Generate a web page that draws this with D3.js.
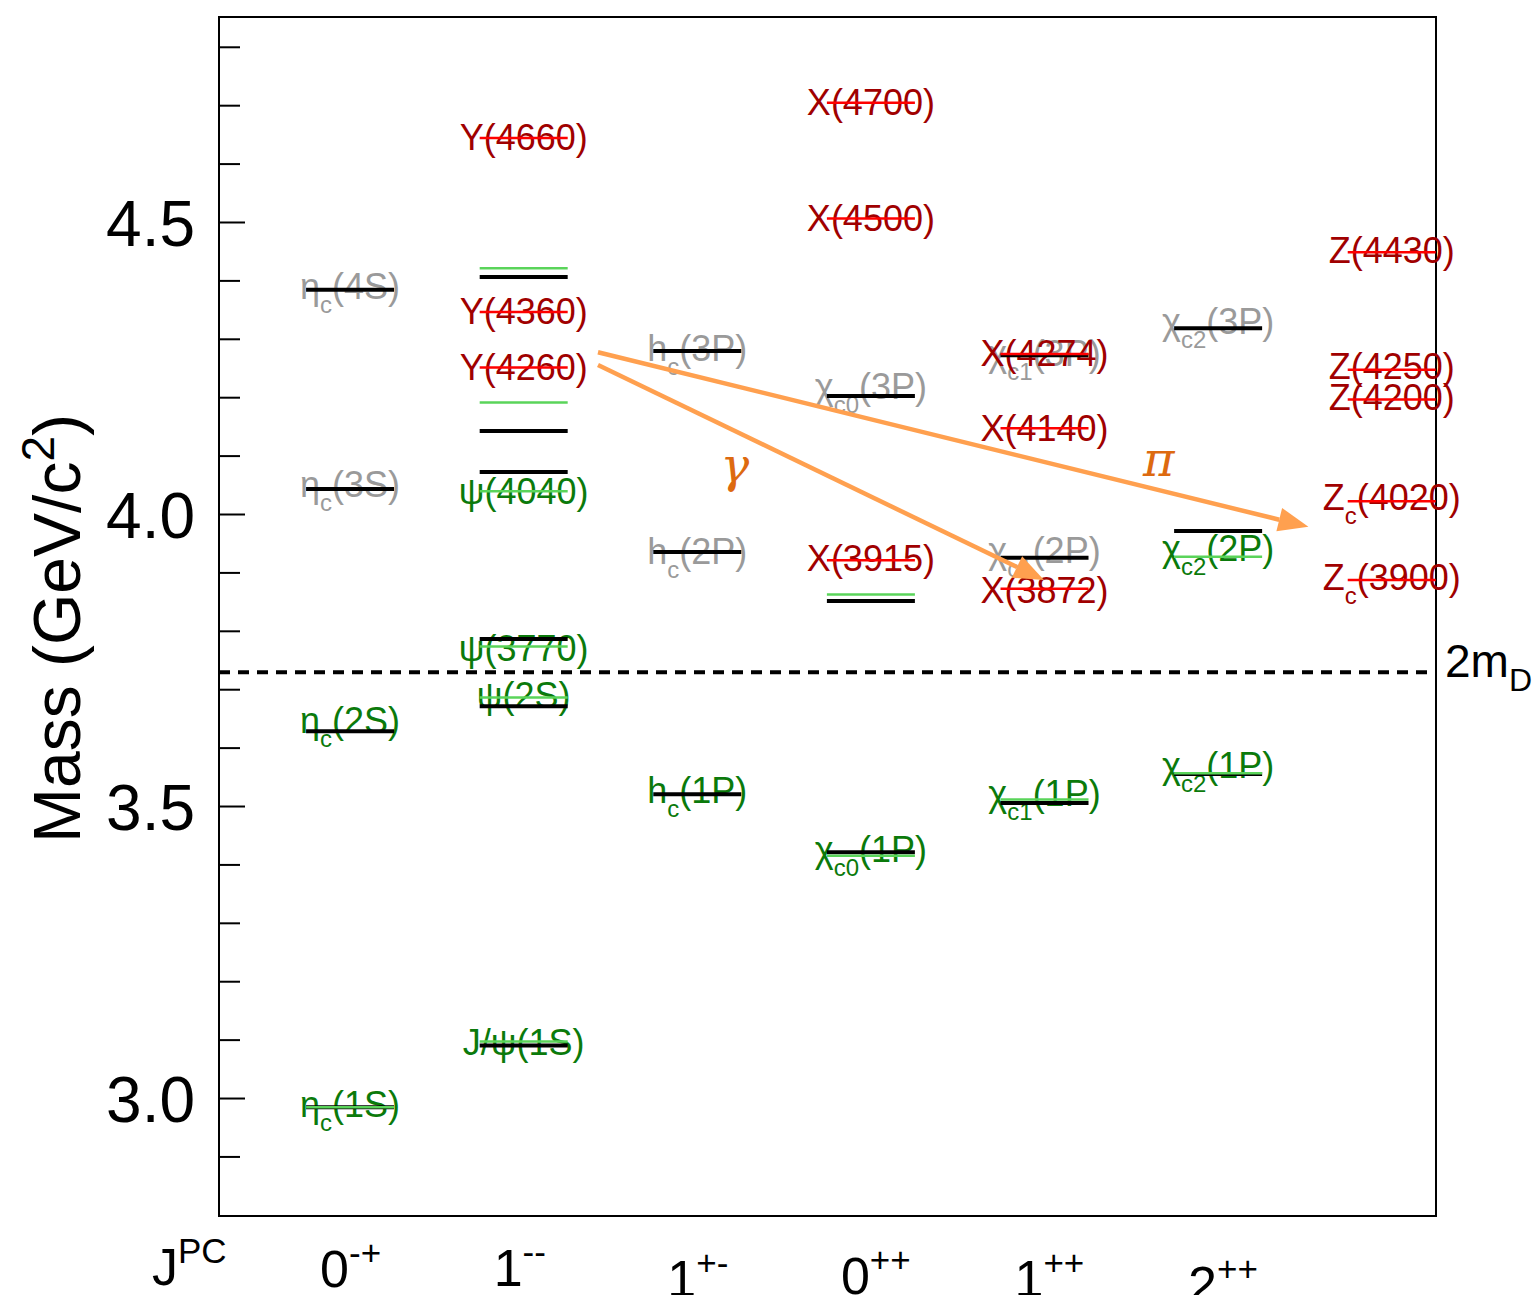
<!DOCTYPE html>
<html>
<head>
<meta charset="utf-8">
<script src="https://cdn.jsdelivr.net/npm/d3@7"></script>
<style>
  html, body { margin: 0; padding: 0; background: #fff; }
  svg { display: block; font-family: "Liberation Sans", Arial, Helvetica, sans-serif; }
</style>
</head>
<body>
<svg id="chart" width="1540" height="1295"></svg>
<script>
// ---------- data ----------
const jpcMain = ["0", "1", "1", "0", "1", "2"];
const jpcSup  = ["-+", "--", "+-", "++", "++", "++"];

const yTicksMajor = [3.0, 3.5, 4.0, 4.5];
const yTicksAll = [2.9, 3.0, 3.1, 3.2, 3.3, 3.4, 3.5, 3.6, 3.7, 3.8, 3.9, 4.0, 4.1, 4.2, 4.3, 4.4, 4.5, 4.6, 4.7, 4.8];

// potential-model predictions (black)  [column, mass]
const predCols   = [0, 0, 0, 0, 1, 1, 1, 1, 1, 1, 2, 2, 2, 3, 3, 3, 4, 4, 4, 5, 5, 5];
const predMasses = [2.984, 3.628, 4.043, 4.384, 3.090, 3.671, 3.786, 4.072, 4.142, 4.406, 3.520, 3.935, 4.279, 3.421, 3.851, 4.202, 3.505, 3.925, 4.272, 3.555, 3.971, 4.318];

// established charmonia (light green)
const expCols   = [0, 1, 1, 1, 1, 1, 1, 3, 3, 4, 5, 5];
const expMasses = [2.984, 3.097, 3.686, 3.773, 4.039, 4.191, 4.421, 3.415, 3.862, 3.511, 3.556, 3.927];

// exotic / XYZ states (red)
const exoCols   = [1, 1, 1, 3, 3, 3, 4, 4, 4, 6, 6, 6, 6, 6];
const exoMasses = [4.251, 4.346, 4.644, 3.921, 4.506, 4.704, 3.872, 4.147, 4.274, 3.887, 4.022, 4.196, 4.247, 4.448];

// labels: column, mass, main, subscript, rest, kind
const labCols   = [0, 0, 0, 0, 1, 1, 1, 1, 1, 1, 1, 2, 2, 2, 3, 3, 3, 3, 3, 4, 4, 4, 4, 4, 4, 5, 5, 5, 6, 6, 6, 6, 6];
const labMasses = [2.990, 3.647, 4.051, 4.390, 3.096, 3.690, 3.771, 4.039, 4.252, 4.348, 4.646, 3.527, 3.937, 4.284, 3.426, 4.219, 3.925, 4.507, 4.705, 3.522, 3.938, 4.276, 3.870, 4.147, 4.276, 3.570, 3.942, 4.330, 3.892, 4.029, 4.200, 4.253, 4.452];
const labMain   = ["η", "η", "η", "η", "J/ψ", "ψ", "ψ", "ψ", "Y", "Y", "Y", "h", "h", "h", "χ", "χ", "X", "X", "X", "χ", "χ", "χ", "X", "X", "X", "χ", "χ", "χ", "Z", "Z", "Z", "Z", "Z"];
const labSub    = ["c", "c", "c", "c", "", "", "", "", "", "", "", "c", "c", "c", "c0", "c0", "", "", "", "c1", "c1", "c1", "", "", "", "c2", "c2", "c2", "c", "c", "", "", ""];
const labRest   = ["(1S)", "(2S)", "(3S)", "(4S)", "(1S)", "(2S)", "(3770)", "(4040)", "(4260)", "(4360)", "(4660)", "(1P)", "(2P)", "(3P)", "(1P)", "(3P)", "(3915)", "(4500)", "(4700)", "(1P)", "(2P)", "(3P)", "(3872)", "(4140)", "(4274)", "(1P)", "(2P)", "(3P)", "(3900)", "(4020)", "(4200)", "(4250)", "(4430)"];
const labKind   = ["g", "g", "k", "k", "g", "g", "g", "g", "r", "r", "r", "g", "k", "k", "g", "k", "r", "r", "r", "g", "k", "k", "r", "r", "r", "g", "g", "k", "r", "r", "r", "r", "r"];

// transitions from Y(4260): [fromCol, fromMass, toCol, toMass]
const arrowFromCol  = [1.428, 1.428];
const arrowFromMass = [4.277, 4.255];
const arrowToCol    = [5.52, 3.997];
const arrowToMass   = [3.978, 3.887];
const arrowLabel    = ["π", "γ"];
const arrowLabCol   = [4.658, 2.216];
const arrowLabMass  = [4.089, 4.079];

const threshold = 3.729; // 2 m_D

// ---------- drawing ----------
const svg = d3.select("#chart");
const L = 219, R = 1436, T = 17, B = 1216;

const x = d3.scaleLinear().domain([-0.755, 6.255]).range([L, R]);
const y = d3.scaleLinear().domain([2.798, 4.851]).range([B, T]);

const colors = { g: "#0b7a0b", k: "#9a9a9a", r: "#a00000" };
const HW = 44;

// axis ticks (inside)
const axis = d3.axisLeft(y)
  .tickValues(yTicksAll)
  .tickSizeInner(-22)
  .tickSizeOuter(0)
  .tickPadding(24)
  .tickFormat(d => yTicksMajor.some(v => Math.abs(v - d) < 1e-6) ? d3.format(".1f")(d) : "");
const ag = svg.append("g").attr("transform", `translate(${L},0)`).call(axis);
ag.select(".domain").remove();
ag.selectAll(".tick line").attr("stroke", "#000").attr("stroke-width", 2)
  .attr("x2", d => yTicksMajor.some(v => Math.abs(v - d) < 1e-6) ? 26 : 21);
ag.selectAll(".tick text").attr("fill", "#000").style("font-size", "64px")
  .style("font-family", '"Liberation Sans", Arial, sans-serif').attr("dy", "0.36em");

// frame
svg.append("rect").attr("x", L).attr("y", T).attr("width", R - L).attr("height", B - T)
  .attr("fill", "none").attr("stroke", "#000").attr("stroke-width", 2);

// y axis title
const yt = svg.append("text")
  .attr("transform", `translate(80,${(T + B) / 2 + 12}) rotate(-90)`)
  .attr("text-anchor", "middle").attr("fill", "#000").style("font-size", "66px");
yt.append("tspan").text("Mass (GeV/c");
yt.append("tspan").attr("dy", -26).style("font-size", "46px").text("2");
yt.append("tspan").attr("dy", 26).text(")");

// JPC labels
const jpcY = [1287, 1286, 1297, 1294, 1297, 1303];
const jt = svg.append("text").attr("x", 152).attr("y", 1285).attr("fill", "#000").style("font-size", "52px");
jt.append("tspan").text("J");
jt.append("tspan").attr("dy", -22).style("font-size", "35px").text("PC");
jpcMain.forEach((m, i) => {
  const t = svg.append("text").attr("x", x(i) - 30).attr("y", jpcY[i]).attr("fill", "#000").style("font-size", "52px");
  t.append("tspan").text(m);
  t.append("tspan").attr("dy", -22).style("font-size", "35px").text(jpcSup[i]);
});

// labels (under the lines)
const FS = 36;
labMain.forEach((m, i) => {
  const t = svg.append("text")
    .attr("x", x(labCols[i])).attr("y", y(labMasses[i]) + FS * 0.36)
    .attr("text-anchor", "middle").attr("fill", colors[labKind[i]])
    .style("font-size", FS + "px");
  t.append("tspan").text(m);
  if (labSub[i]) {
    t.append("tspan").attr("dy", 14).style("font-size", "24px").text(labSub[i]);
    t.append("tspan").attr("dy", -14).text(labRest[i]);
  } else {
    t.append("tspan").text(labRest[i]);
  }
});

// 2mD threshold
svg.append("line").attr("x1", L).attr("x2", R).attr("y1", y(threshold)).attr("y2", y(threshold))
  .attr("stroke", "#000").attr("stroke-width", 4).attr("stroke-dasharray", "11,8");
const mt = svg.append("text").attr("x", 1445).attr("y", y(threshold) + 5).attr("fill", "#000").style("font-size", "46px");
mt.append("tspan").text("2m");
mt.append("tspan").attr("dy", 14).style("font-size", "32px").text("D");

// level lines
const drawLines = (cols, masses, stroke, width) => {
  svg.append("g").selectAll("line").data(masses).join("line")
    .attr("x1", (d, i) => x(cols[i]) - HW).attr("x2", (d, i) => x(cols[i]) + HW)
    .attr("y1", d => y(d)).attr("y2", d => y(d))
    .attr("stroke", stroke).attr("stroke-width", width);
};
drawLines(predCols, predMasses, "#000", 4);
drawLines(expCols, expMasses, "#5ad45a", 2.5);
drawLines(exoCols, exoMasses, "#ff0000", 2.5);

// transition arrows
const orange = "#ffa04f";
arrowFromCol.forEach((c, i) => {
  const x1 = x(c), y1 = y(arrowFromMass[i]), x2 = x(arrowToCol[i]), y2 = y(arrowToMass[i]);
  const ang = Math.atan2(y2 - y1, x2 - x1);
  const len = 30, hw = 12;
  const bx = x2 - len * Math.cos(ang), by = y2 - len * Math.sin(ang);
  svg.append("line").attr("x1", x1).attr("y1", y1).attr("x2", bx).attr("y2", by)
    .attr("stroke", orange).attr("stroke-width", 4.5);
  const p = [[x2, y2],
    [bx + hw * Math.sin(ang), by - hw * Math.cos(ang)],
    [bx - hw * Math.sin(ang), by + hw * Math.cos(ang)]];
  svg.append("path").attr("d", d3.line()(p) + "Z").attr("fill", orange);
  svg.append("text").attr("x", x(arrowLabCol[i])).attr("y", y(arrowLabMass[i]) + 14)
    .attr("text-anchor", "middle").attr("fill", "#dd6a10")
    .style("font-size", "48px").style("font-style", "italic")
    .style("font-family", '"DejaVu Serif", "Liberation Serif", serif')
    .text(arrowLabel[i]);
});
</script>
</body>
</html>
